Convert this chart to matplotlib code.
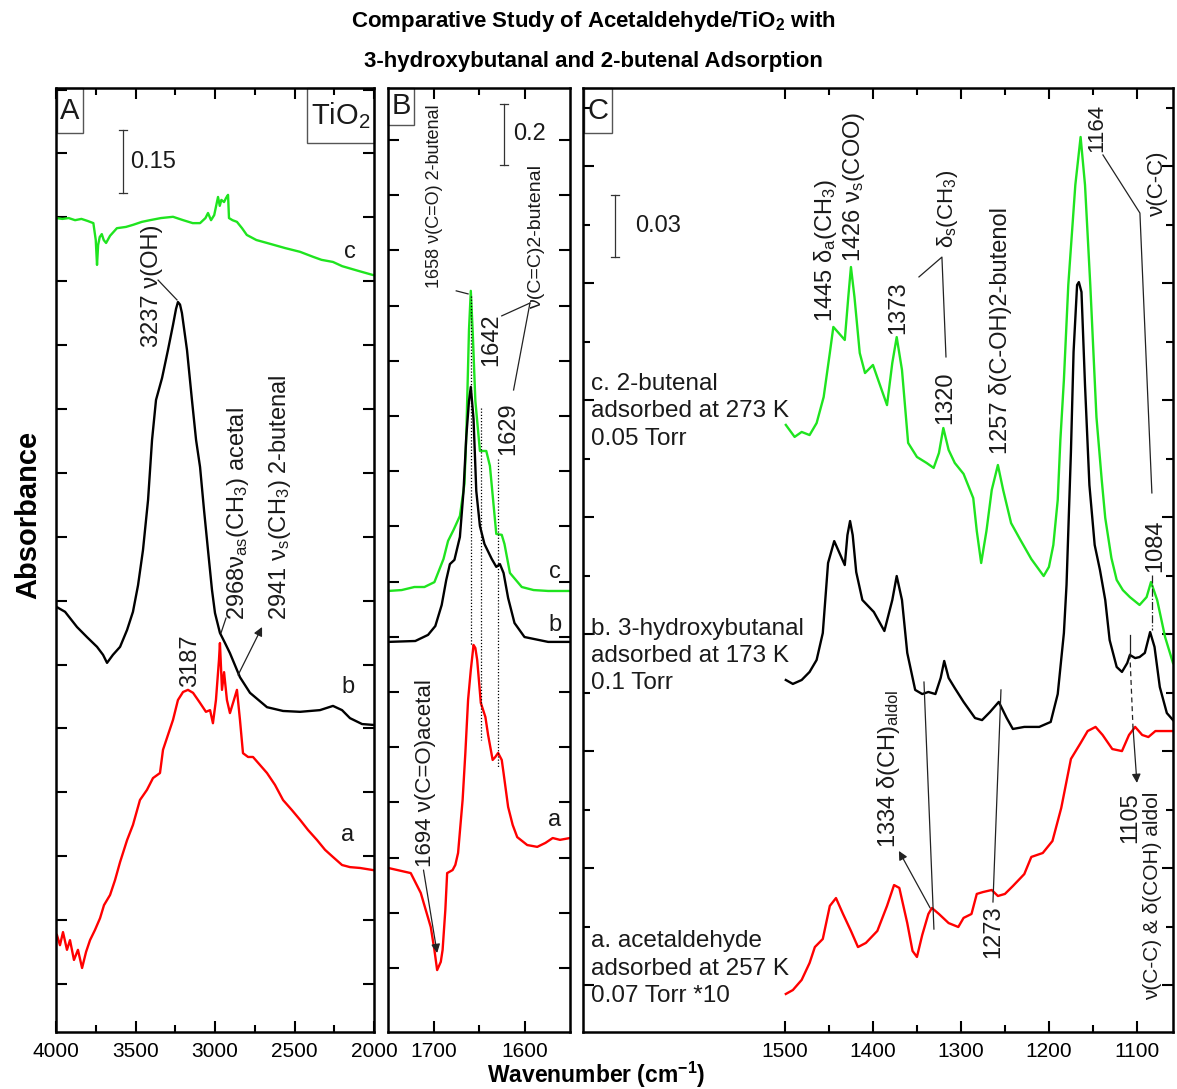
import numpy as np
import matplotlib
matplotlib.use('Agg')
import matplotlib.pyplot as plt
from matplotlib.patches import Rectangle
from matplotlib.ticker import FixedLocator

plt.rcParams['font.family'] = ['Liberation Sans', 'DejaVu Sans']
plt.rcParams['mathtext.fontset'] = 'custom'
plt.rcParams['mathtext.rm'] = 'Liberation Sans'
plt.rcParams['mathtext.it'] = 'Liberation Sans:italic'
plt.rcParams['mathtext.bf'] = 'Liberation Sans:bold'

GREEN = '#1fe41f'
RED = '#ff0000'
BLACK = '#000000'
TXT = '#1a1a1a'

# ---------------- Panel A : 4000-2000 cm-1 (wavenumber, absorbance) ----------------
A_c = np.array([(4000, 1.815), (3960, 1.813), (3920, 1.815), (3880, 1.810), (3840, 1.813),
                (3800, 1.808), (3765, 1.803), (3750, 1.763), (3742, 1.704), (3735, 1.751),
                (3725, 1.770), (3712, 1.777), (3700, 1.763), (3685, 1.756), (3660, 1.773),
                (3617, 1.791), (3560, 1.794), (3515, 1.799), (3460, 1.806), (3409, 1.810),
                (3340, 1.815), (3264, 1.818), (3200, 1.810), (3140, 1.803), (3094, 1.803),
                (3060, 1.815), (3044, 1.827), (3025, 1.810), (3005, 1.822), (2981, 1.865),
                (2970, 1.844), (2960, 1.858), (2943, 1.853), (2930, 1.863), (2918, 1.870),
                (2912, 1.815), (2890, 1.810), (2862, 1.806), (2830, 1.791), (2800, 1.775),
                (2740, 1.763), (2673, 1.756), (2560, 1.744), (2465, 1.735), (2382, 1.723),
                (2330, 1.716), (2258, 1.711), (2200, 1.701), (2100, 1.690), (2006, 1.680)])
A_b = np.array([(3994, 0.893), (3943, 0.882), (3868, 0.846), (3805, 0.822), (3742, 0.799),
                (3704, 0.780), (3679, 0.761), (3642, 0.780), (3597, 0.799), (3553, 0.839),
                (3516, 0.882), (3484, 0.945), (3453, 1.028), (3421, 1.147), (3396, 1.289),
                (3371, 1.384), (3333, 1.436), (3296, 1.502), (3264, 1.562), (3245, 1.600),
                (3233, 1.616), (3220, 1.610), (3208, 1.590), (3176, 1.502), (3145, 1.384),
                (3119, 1.289), (3094, 1.225), (3069, 1.123), (3044, 1.028), (3019, 0.934),
                (3000, 0.879), (2969, 0.832), (2937, 0.808), (2906, 0.784), (2843, 0.727),
                (2780, 0.690), (2673, 0.656), (2572, 0.647), (2465, 0.645), (2340, 0.649),
                (2258, 0.659), (2201, 0.649), (2151, 0.630), (2075, 0.616), (2006, 0.614)])
A_a = np.array([(3994, 0.116), (3975, 0.092), (3956, 0.123), (3931, 0.081), (3912, 0.104),
                (3887, 0.057), (3862, 0.081), (3836, 0.038), (3811, 0.076), (3786, 0.104),
                (3755, 0.128), (3723, 0.156), (3698, 0.187), (3660, 0.211), (3629, 0.246),
                (3597, 0.289), (3553, 0.341), (3516, 0.377), (3472, 0.436), (3428, 0.460),
                (3390, 0.488), (3346, 0.500), (3327, 0.555), (3296, 0.590), (3264, 0.626),
                (3233, 0.673), (3201, 0.692), (3170, 0.697), (3138, 0.690), (3094, 0.666),
                (3057, 0.645), (3031, 0.649), (3013, 0.618), (2994, 0.673), (2975, 0.768),
                (2969, 0.808), (2956, 0.697), (2943, 0.739), (2925, 0.673), (2906, 0.642),
                (2881, 0.673), (2862, 0.697), (2843, 0.626), (2824, 0.547), (2792, 0.538),
                (2761, 0.538), (2717, 0.519), (2673, 0.500), (2623, 0.472), (2572, 0.436),
                (2516, 0.412), (2465, 0.389), (2415, 0.365), (2358, 0.341), (2308, 0.318),
                (2258, 0.301), (2201, 0.282), (2151, 0.277), (2088, 0.275), (2006, 0.270)])

# ---------------- Panel B : 1750-1550 cm-1 ----------------
B_c = np.array([(1750, 1.446), (1735, 1.449), (1721, 1.459), (1710, 1.459), (1699, 1.475),
                (1689, 1.551), (1684, 1.610), (1678, 1.646), (1671, 1.692), (1666, 1.797),
                (1664, 1.951), (1661, 2.302), (1659, 2.430), (1657, 2.302), (1654, 2.069),
                (1649, 1.905), (1642, 1.905), (1638, 1.856), (1631, 1.633), (1625, 1.630),
                (1622, 1.600), (1616, 1.505), (1603, 1.459), (1590, 1.449), (1574, 1.446),
                (1550, 1.446)])
B_b = np.array([(1750, 1.279), (1720, 1.282), (1706, 1.302), (1698, 1.331), (1691, 1.400),
                (1686, 1.482), (1682, 1.534), (1677, 1.548), (1671, 1.623), (1667, 1.774),
                (1664, 1.951), (1661, 2.069), (1659, 2.115), (1656, 2.010), (1653, 1.774),
                (1649, 1.659), (1644, 1.600), (1636, 1.551), (1631, 1.525), (1627, 1.534),
                (1623, 1.505), (1618, 1.423), (1611, 1.341), (1600, 1.295), (1574, 1.279),
                (1550, 1.279)])
B_a = np.array([(1750, 0.538), (1725, 0.521), (1714, 0.456), (1703, 0.344), (1699, 0.269),
                (1696, 0.203), (1692, 0.230), (1690, 0.269), (1687, 0.400), (1685, 0.521),
                (1679, 0.531), (1676, 0.548), (1673, 0.587), (1668, 0.761), (1665, 0.915),
                (1662, 1.089), (1659, 1.187), (1656, 1.269), (1654, 1.259), (1652, 1.220),
                (1648, 1.079), (1643, 1.033), (1640, 0.974), (1635, 0.892), (1632, 0.902),
                (1629, 0.915), (1625, 0.892), (1623, 0.849), (1618, 0.738), (1613, 0.679),
                (1608, 0.639), (1597, 0.613), (1586, 0.607), (1577, 0.620), (1569, 0.636),
                (1561, 0.630), (1550, 0.636)])
B_marks = [(1659, 2.413, 1.269), (1648, 2.046, 0.957), (1629, 1.879, 0.869)]

# ---------------- Panel C : 1500-1060 cm-1 ----------------
C_c = np.array([(1499, 0.2937), (1489, 0.2879), (1481, 0.2903), (1472, 0.2888), (1464, 0.2946),
                (1456, 0.3072), (1449, 0.3285), (1445, 0.3411), (1439, 0.3382), (1432, 0.3348),
                (1428, 0.3556), (1425, 0.3701), (1421, 0.3556), (1415, 0.3285), (1409, 0.3188),
                (1400, 0.3227), (1394, 0.3154), (1384, 0.3033), (1378, 0.3237), (1373, 0.3362),
                (1367, 0.3203), (1360, 0.2850), (1350, 0.2782), (1339, 0.2753), (1331, 0.2729),
                (1325, 0.2801), (1320, 0.2922), (1314, 0.2816), (1307, 0.2753), (1297, 0.2700),
                (1286, 0.2583), (1282, 0.2424), (1277, 0.2269), (1271, 0.2424), (1265, 0.2622),
                (1258, 0.2743), (1252, 0.2622), (1243, 0.2462), (1233, 0.2385), (1220, 0.2288),
                (1206, 0.2206), (1200, 0.2250), (1195, 0.2356), (1190, 0.2574), (1187, 0.2864),
                (1183, 0.3154), (1178, 0.3614), (1170, 0.4098), (1164, 0.4330), (1159, 0.4098),
                (1153, 0.3614), (1146, 0.2975), (1140, 0.2671), (1136, 0.2487), (1129, 0.2293),
                (1123, 0.2187), (1116, 0.2138), (1108, 0.2104), (1097, 0.2066), (1089, 0.2104),
                (1084, 0.2177), (1077, 0.2090), (1068, 0.1911), (1059, 0.1785)])
C_b = np.array([(1499, 0.1703), (1491, 0.1684), (1481, 0.1703), (1472, 0.1742), (1464, 0.1800),
                (1457, 0.1930), (1451, 0.2269), (1444, 0.2375), (1438, 0.2317), (1432, 0.2259),
                (1429, 0.2404), (1426, 0.2472), (1423, 0.2404), (1419, 0.2225), (1412, 0.2090),
                (1399, 0.2032), (1387, 0.1940), (1378, 0.2090), (1373, 0.2206), (1367, 0.2090),
                (1361, 0.1834), (1352, 0.1655), (1344, 0.1635), (1337, 0.1645), (1329, 0.1635),
                (1323, 0.1713), (1319, 0.1795), (1314, 0.1713), (1307, 0.1664), (1297, 0.1597),
                (1284, 0.1519), (1276, 0.1509), (1267, 0.1548), (1257, 0.1597), (1248, 0.1519),
                (1241, 0.1466), (1228, 0.1476), (1211, 0.1476), (1198, 0.1500), (1190, 0.1635),
                (1183, 0.1930), (1180, 0.2163), (1175, 0.2806), (1172, 0.3290), (1168, 0.3614),
                (1166, 0.3628), (1163, 0.3580), (1159, 0.3130), (1154, 0.2646), (1148, 0.2356),
                (1142, 0.2235), (1136, 0.2090), (1131, 0.1896), (1123, 0.1766), (1117, 0.1742),
                (1111, 0.1785), (1108, 0.1824), (1102, 0.1809), (1097, 0.1814), (1091, 0.1834),
                (1085, 0.1935), (1080, 0.1863), (1074, 0.1669), (1066, 0.1543), (1059, 0.1509)])
C_a = np.array([(1499, 0.0184), (1491, 0.0203), (1481, 0.0252), (1472, 0.0334), (1466, 0.0411),
                (1457, 0.0450), (1449, 0.0610), (1442, 0.0648), (1434, 0.0571), (1425, 0.0489),
                (1417, 0.0411), (1408, 0.0431), (1395, 0.0489), (1384, 0.0610), (1376, 0.0711),
                (1370, 0.0697), (1361, 0.0527), (1355, 0.0392), (1350, 0.0363), (1344, 0.0469),
                (1337, 0.0571), (1333, 0.0600), (1325, 0.0571), (1314, 0.0527), (1303, 0.0508),
                (1297, 0.0552), (1288, 0.0571), (1282, 0.0668), (1275, 0.0677), (1265, 0.0687),
                (1258, 0.0658), (1250, 0.0668), (1241, 0.0706), (1228, 0.0764), (1220, 0.0847),
                (1207, 0.0866), (1196, 0.0924), (1186, 0.1084), (1175, 0.1321), (1164, 0.1398),
                (1156, 0.1456), (1147, 0.1476), (1139, 0.1437), (1128, 0.1369), (1117, 0.1359),
                (1109, 0.1437), (1102, 0.1476), (1094, 0.1437), (1087, 0.1427), (1079, 0.1456),
                (1059, 0.1456)])

A_ticks = [4000, 3500, 3000, 2500, 2000]
B_ticks = [1700, 1600]
C_ticks = [1500, 1400, 1300, 1200, 1100]

# ---------------- figure ----------------
fig = plt.figure(figsize=(11.77, 10.89), dpi=100)
H = 944 / 1089
axA = fig.add_axes([56 / 1177, 57 / 1089, 318 / 1177, H])
axB = fig.add_axes([388 / 1177, 57 / 1089, 182 / 1177, H])
axC = fig.add_axes([583 / 1177, 57 / 1089, 590 / 1177, H])

for ax in (axA, axB, axC):
    for s in ax.spines.values():
        s.set_linewidth(1.8)
    ax.tick_params(which='both', direction='in', top=True, right=True, width=1.5,
                   labelsize=15, pad=7, labelleft=False)
    ax.tick_params(which='major', length=8)
    ax.tick_params(which='minor', length=5)

LW = 1.7
# A
axA.plot(A_c[:, 0], A_c[:, 1], color=GREEN, lw=LW)
axA.plot(A_b[:, 0], A_b[:, 1], color=BLACK, lw=LW)
axA.plot(A_a[:, 0], A_a[:, 1], color=RED, lw=LW)
axA.set_xlim(4000, 2000)
axA.set_ylim(-0.1137, 2.1232)
axA.xaxis.set_major_locator(FixedLocator(A_ticks))
axA.xaxis.set_minor_locator(FixedLocator([3750, 3250, 2750, 2250]))
axA.yaxis.set_major_locator(FixedLocator(np.arange(0, 2.13, 0.1514)))
axA.set_xticklabels([str(t) for t in A_ticks])

# B
axB.plot(B_c[:, 0], B_c[:, 1], color=GREEN, lw=LW)
axB.plot(B_b[:, 0], B_b[:, 1], color=BLACK, lw=LW)
axB.plot(B_a[:, 0], B_a[:, 1], color=RED, lw=LW)
for w, y1, y2 in B_marks:
    axB.plot([w, w], [y1, y2], color='k', lw=0.9, ls=(0, (1, 1.5)))
axB.set_xlim(1750, 1550)
axB.set_ylim(0, 3.0951)
axB.xaxis.set_major_locator(FixedLocator(B_ticks))
axB.xaxis.set_minor_locator(FixedLocator([1650]))
axB.yaxis.set_major_locator(FixedLocator(np.arange(0.2098, 3.09, 0.181)))
axB.set_xticklabels([str(t) for t in B_ticks])

# C
axC.plot(C_c[:, 0], C_c[:, 1], color=GREEN, lw=LW)
axC.plot(C_b[:, 0], C_b[:, 1], color=BLACK, lw=LW)
axC.plot(C_a[:, 0], C_a[:, 1], color=RED, lw=LW)
axC.set_xlim(1729.5, 1059)
axC.set_ylim(0, 0.4567)
axC.xaxis.set_major_locator(FixedLocator(C_ticks))
axC.xaxis.set_minor_locator(FixedLocator([1450, 1350, 1250, 1150]))
axC.yaxis.set_major_locator(FixedLocator(np.arange(0.0227, 0.45, 0.0566)))
axC.yaxis.set_minor_locator(FixedLocator(np.arange(0.0510, 0.45, 0.0566)))
axC.set_xticklabels([str(t) for t in C_ticks])


def vtext(ax, x, y, s, size=17):
    ax.text(x, y, s, rotation=90, rotation_mode='anchor', ha='left', va='center',
            fontsize=size, color=TXT)


def line(ax, pts, **kw):
    pts = np.array(pts)
    kw.setdefault('color', '#222222')
    kw.setdefault('lw', 0.9)
    ax.plot(pts[:, 0], pts[:, 1], **kw)


def arrow(ax, tail, head):
    ax.annotate('', xy=head, xytext=tail,
                arrowprops=dict(arrowstyle='-|>', lw=0.9, color='#222222',
                                mutation_scale=13, shrinkA=0, shrinkB=0))


def scalebar(ax, x, y0, y1, half, label, tx):
    line(ax, [(x, y0), (x, y1)], color='#333333')
    line(ax, [(x - half, y0), (x + half, y0)], color='#333333')
    line(ax, [(x - half, y1), (x + half, y1)], color='#333333')
    ax.text(tx, (y0 + y1) / 2, label, ha='left', va='center', fontsize=17, color=TXT)


def boxlabel(ax, x0, y0, w, h, s, size=21):
    ax.add_patch(Rectangle((x0, y0), w, h, transform=ax.transAxes, fill=False,
                           lw=1.0, ec='#555555', clip_on=False))
    ax.text(x0 + w / 2, y0 + h / 2, s, transform=ax.transAxes, ha='center', va='center',
            fontsize=size, color=TXT)


# ---- A annotations
vtext(axA, 3396, 1.509, '3237 ν(OH)')
line(axA, [(3358, 1.668), (3239, 1.621)])
vtext(axA, 3157, 0.704, '3187')
vtext(axA, 2855, 0.863, r'2968ν$_\mathrm{as}$(CH$_3$) acetal')
line(axA, [(2931, 0.867), (2962, 0.832)])
vtext(axA, 2591, 0.863, r'2941 ν$_\mathrm{s}$(CH$_3$) 2-butenal')
arrow(axA, (2855, 0.732), (2704, 0.846))
axA.text(2151, 1.735, 'c', ha='center', va='center', fontsize=17, color=TXT)
axA.text(2164, 0.704, 'b', ha='center', va='center', fontsize=17, color=TXT)
axA.text(2164, 0.353, 'a', ha='center', va='center', fontsize=17, color=TXT)
scalebar(axA, 3579, 1.874, 2.024, 25, '0.15', 3535)
boxlabel(axA, 0.003, 0.952, 0.082, 0.048, 'A')
boxlabel(axA, 0.789, 0.942, 0.211, 0.058, r'TiO$_2$')

# ---- B annotations
vtext(axB, 1699, 2.440, '1658 ν(C=O) 2-butenal', size=13)
line(axB, [(1675, 2.430), (1662, 2.420)])
vtext(axB, 1636, 2.184, '1642')
vtext(axB, 1618, 1.892, '1629')
vtext(axB, 1587, 2.370, 'ν(C=C)2-butenal', size=14)
line(axB, [(1625, 2.348), (1594, 2.390)])
line(axB, [(1612, 2.105), (1594, 2.390)])
vtext(axB, 1709, 0.541, '1694 ν(C=O)acetal', size=16)
arrow(axB, (1711, 0.531), (1696, 0.259))
scalebar(axB, 1622, 2.843, 3.043, 4.4, '0.2', 1612)
axB.text(1567, 1.508, 'c', ha='center', va='center', fontsize=17, color=TXT)
axB.text(1567, 1.334, 'b', ha='center', va='center', fontsize=17, color=TXT)
axB.text(1567, 0.695, 'a', ha='center', va='center', fontsize=17, color=TXT)
boxlabel(axB, 0.0, 0.961, 0.143, 0.039, 'B')

# ---- C annotations
vtext(axC, 1453.4, 0.3435, r'1445 δ$_\mathrm{a}$(CH$_3$)')
vtext(axC, 1421.6, 0.3725, r'1426 ν$_\mathrm{s}$(COO)')
vtext(axC, 1371.6, 0.3377, '1373')
vtext(axC, 1314.8, 0.3793, r'δ$_\mathrm{s}$(CH$_3$)', size=16)
line(axC, [(1347.7, 0.3653), (1321.6, 0.3749), (1317, 0.3266)])
vtext(axC, 1318, 0.2941, '1320')
vtext(axC, 1254.5, 0.2796, '1257 δ(C-OH)2-butenol')
vtext(axC, 1145.5, 0.4257, '1164', size=16)
vtext(axC, 1077, 0.3948, 'ν(C-C)', size=16)
line(axC, [(1138.6, 0.4243), (1096.6, 0.3962), (1083, 0.2608)])
vtext(axC, 1079.5, 0.2225, '1084')
line(axC, [(1083, 0.2211), (1083, 0.1945)], ls='-.')
vtext(axC, 1381.8, 0.0890, r'1334 δ(CH)$_\mathrm{aldol}$')
arrow(axC, (1335, 0.0600), (1370.5, 0.0876))
line(axC, [(1342, 0.1693), (1330.7, 0.0498)])
vtext(axC, 1263.6, 0.0358, '1273')
line(axC, [(1254.5, 0.1655), (1263.6, 0.0629)])
vtext(axC, 1108, 0.0914, '1105')
vtext(axC, 1081.8, 0.0155, 'ν(C-C) & δ(COH) aldol', size=15)
line(axC, [(1108, 0.1920), (1108, 0.1830)])
line(axC, [(1108, 0.1830), (1104.5, 0.1476)], ls=(0, (4, 3)))
arrow(axC, (1104.5, 0.1476), (1100, 0.1205))
scalebar(axC, 1693, 0.375, 0.405, 4.5, '0.03', 1670)
boxlabel(axC, 0.0017, 0.952, 0.047, 0.048, 'C')

side = dict(ha='left', va='center', fontsize=17.5, color=TXT, linespacing=1.3)
axC.text(1720.5, 0.3002, 'c. 2-butenal\nadsorbed at 273 K\n0.05 Torr', **side)
axC.text(1720.5, 0.1819, 'b. 3-hydroxybutanal\nadsorbed at 173 K\n0.1 Torr', **side)
axC.text(1720.5, 0.0307, 'a. acetaldehyde\nadsorbed at 257 K\n0.07 Torr *10', **side)

# ---- figure texts
fig.text(593 / 1177, 1 - 22 / 1089, r'Comparative Study of Acetaldehyde/TiO$_\mathbf{2}$ with',
         ha='center', va='center', fontsize=16, fontweight='bold')
fig.text(593 / 1177, 1 - 62 / 1089, '3-hydroxybutanal and 2-butenal Adsorption',
         ha='center', va='center', fontsize=16, fontweight='bold')
fig.text(28 / 1177, 1 - 515 / 1089, 'Absorbance', rotation=90, ha='center', va='center',
         fontsize=21, fontweight='bold')
fig.text(596 / 1177, 1 - 1075 / 1089, r'Wavenumber (cm$^{\mathbf{-1}}$)', ha='center',
         va='center', fontsize=16.5, fontweight='bold')

fig.savefig('out.png', dpi=100)
